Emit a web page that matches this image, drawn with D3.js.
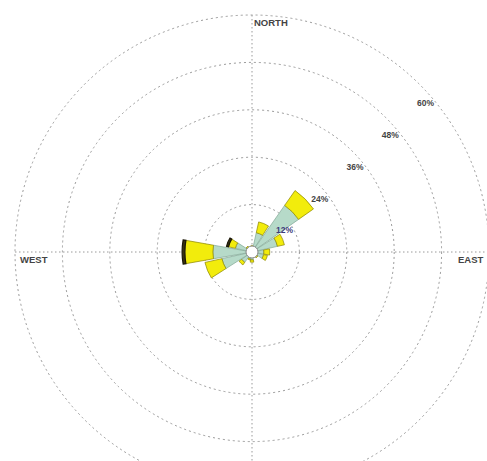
<!DOCTYPE html>
<html>
<head>
<meta charset="utf-8">
<script src="https://cdn.jsdelivr.net/npm/d3@7/dist/d3.min.js"></script>
<style>
  html, body { margin: 0; padding: 0; background: #fff; }
  svg { display: block; }
  text { font-family: "Liberation Sans", Arial, sans-serif; font-weight: bold; }
</style>
</head>
<body>
<svg id="chart" width="487" height="461"></svg>
<script>
// Sixteen compass sectors, clockwise from north
const directions = ["N", "NNE", "NE", "ENE", "E", "ESE", "SE", "SSE",
                    "S", "SSW", "SW", "WSW", "W", "WNW", "NW", "NNW"];
// Frequency (%) per speed class, stacked outward
const lowSpeed  = [1.2, 5.0, 14.4, 6.6, 3.0, 3.0, 1.5, 1.2, 2.0, 1.8, 3.2, 7.8, 9.9, 4.3, 1.5, 1.0];
const midSpeed  = [0.4, 2.8, 4.6, 1.8, 1.5, 1.0, 0.3, 0.2, 0.6, 0.3, 0.8, 4.4, 7.1, 1.8, 0.3, 0.2];
const highSpeed = [0.0, 0.0, 0.0, 0.0, 0.0, 0.0, 0.0, 0.0, 0.0, 0.0, 0.0, 0.0, 0.7, 0.5, 0.0, 0.0];
// Rings and their labels
const ringValues = [12, 24, 36, 48, 60];
const ringLabels = ["12%", "24%", "36%", "48%", "60%"];
const compassLabels = ["NORTH", "EAST", "WEST"];

const classColors = ["#b6dac9", "#f2ec0c", "#3a3310"];
const classStroke = ["#7fa693", "#8a8400", "#1a1608"];

const svg = d3.select("#chart");
const cx = 252, cy = 252;
const r = d3.scaleLinear().domain([0, 60]).range([0, 237]);
const angle = d3.scaleBand().domain(directions).range([0, 2 * Math.PI]);
const sectorHalf = (10 / 180) * Math.PI;

const g = svg.append("g").attr("transform", `translate(${cx},${cy})`);

// Dotted rings
g.selectAll("circle.ring").data(ringValues).join("circle")
  .attr("class", "ring")
  .attr("r", d => r(d))
  .attr("fill", "none")
  .attr("stroke", "#9a9a9a")
  .attr("stroke-width", 1)
  .attr("stroke-dasharray", "2,3");

// Dotted compass axes
const reach = r(60);
g.append("line").attr("x1", -reach).attr("x2", cx + 487).attr("y1", 0).attr("y2", 0)
  .attr("stroke", "#9a9a9a").attr("stroke-dasharray", "1.5,2.5");
g.append("line").attr("x1", 0).attr("x2", 0).attr("y1", -reach).attr("y2", 461)
  .attr("stroke", "#9a9a9a").attr("stroke-dasharray", "1.5,2.5");

// Stacked sectors
const stacks = directions.map((d, i) => {
  const vals = [lowSpeed[i], midSpeed[i], highSpeed[i]];
  let acc = 0;
  return vals.map((v, k) => {
    const seg = { dir: d, cls: k, r0: acc, r1: acc + v };
    acc += v;
    return seg;
  }).filter(s => s.r1 > s.r0);
}).flat();

const arc = d3.arc()
  .innerRadius(s => r(s.r0))
  .outerRadius(s => r(s.r1))
  .startAngle(s => angle(s.dir) - sectorHalf)
  .endAngle(s => angle(s.dir) + sectorHalf);

g.selectAll("path.bar").data(stacks).join("path")
  .attr("class", "bar")
  .attr("d", arc)
  .attr("fill", s => classColors[s.cls])
  .attr("stroke", s => classStroke[s.cls])
  .attr("stroke-width", s => s.cls === 2 ? 1.2 : 0.7);

// Calm circle
g.append("circle").attr("r", 6).attr("fill", "#fff")
  .attr("stroke", "#8a8a8a").attr("stroke-width", 1);

// Ring labels along the north-east diagonal
const labelBearing = (48 / 180) * Math.PI;
g.selectAll("text.ring-label").data(ringValues).join("text")
  .attr("class", "ring-label")
  .attr("x", d => (r(d) - 15) * Math.sin(labelBearing))
  .attr("y", d => -(r(d) - 15) * Math.cos(labelBearing))
  .attr("dy", "0.35em")
  .attr("font-size", 8.5)
  .attr("fill", (d, i) => i === 0 ? "#3c3c7a" : "#444")
  .text((d, i) => ringLabels[i]);

// Compass labels
g.append("text").attr("x", 2).attr("y", -reach + 11).attr("font-size", 9.5)
  .attr("fill", "#444").text(compassLabels[0]);
g.append("text").attr("x", reach - 31).attr("y", 11).attr("font-size", 9.5)
  .attr("fill", "#444").text(compassLabels[1]);
g.append("text").attr("x", -reach + 5).attr("y", 11).attr("font-size", 9.5)
  .attr("fill", "#444").text(compassLabels[2]);
</script>
</body>
</html>
